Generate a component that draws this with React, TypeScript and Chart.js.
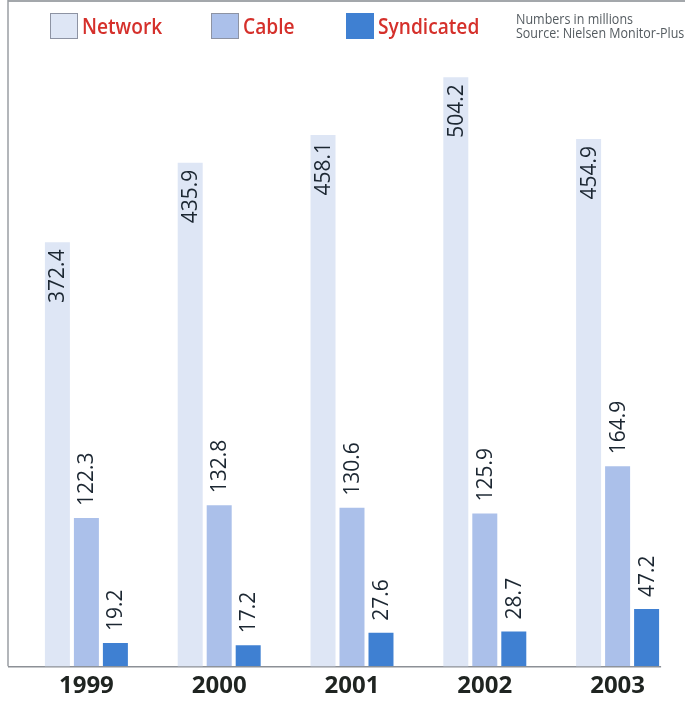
import React, { useEffect, useRef } from "react";
import { Chart, registerables } from "chart.js";

Chart.register(...registerables);

// ---- data ----
const categories = ["1999", "2000", "2001", "2002", "2003"];
const seriesNames = ["Network", "Cable", "Syndicated"];
const networkValues = [372.4, 435.9, 458.1, 504.2, 454.9];
const cableValues = [122.3, 132.8, 130.6, 125.9, 164.9];
const syndicatedValues = [19.2, 17.2, 27.6, 28.7, 47.2];
const noteLines = ["Numbers in millions", "Source: Nielsen Monitor-Plus"];

// ---- styles ----
const NETWORK_COLOR = "#dee6f5";
const CABLE_COLOR = "#abc0ea";
const SYND_COLOR = "#3f80d2";
const LABEL_COLOR = "#1c2732";
const LEGEND_TEXT = "#d5302b";
const FONT = "'Open Sans', 'Noto Sans', sans-serif";

const framePlugin = {
  id: "frame",
  beforeDatasetsDraw(chart: any) {
    const { ctx, chartArea } = chart;
    const metas = chart.getSortedVisibleDatasetMetas();
    const lastMeta = metas[metas.length - 1];
    const lastBar = lastMeta.data[lastMeta.data.length - 1];
    const rightEnd = lastBar.x + lastBar.width / 2 + 2;
    ctx.save();
    // top scan edge
    ctx.fillStyle = "#a3a7ab";
    ctx.fillRect(8, 0, chart.width - 8, 2);
    // left frame line
    ctx.strokeStyle = "#9a9ea3";
    ctx.lineWidth = 1.5;
    ctx.beginPath();
    ctx.moveTo(8, 0);
    ctx.lineTo(8, chartArea.bottom);
    ctx.stroke();
    // baseline
    ctx.strokeStyle = "#8c9096";
    ctx.lineWidth = 1.5;
    ctx.beginPath();
    ctx.moveTo(8, chartArea.bottom + 0.5);
    ctx.lineTo(rightEnd, chartArea.bottom + 0.5);
    ctx.stroke();
    ctx.restore();
  },
};

const valueLabelPlugin = {
  id: "valueLabels",
  afterDatasetsDraw(chart: any) {
    const { ctx } = chart;
    ctx.save();
    ctx.font = `500 21px ${FONT}`;
    ctx.fillStyle = LABEL_COLOR;
    ctx.textBaseline = "middle";
    chart.data.datasets.forEach((ds: any, di: number) => {
      const meta = chart.getDatasetMeta(di);
      const inside = di === 0;
      meta.data.forEach((bar: any, i: number) => {
        const v = ds.data[i] as number;
        ctx.save();
        ctx.translate(bar.x + 1, inside ? bar.y + 7 : bar.y - 12);
        ctx.rotate(-Math.PI / 2);
        ctx.textAlign = inside ? "right" : "left";
        ctx.fillText(v.toFixed(1), 0, 0);
        ctx.restore();
      });
    });
    ctx.restore();
  },
};

const legendPlugin = {
  id: "customLegend",
  afterDraw(chart: any) {
    const { ctx } = chart;
    const boxX = [50, 211, 346];
    const boxY = 13;
    const boxW = 28;
    const boxH = 26;
    ctx.save();
    chart.data.datasets.forEach((ds: any, i: number) => {
      ctx.fillStyle = ds.backgroundColor;
      ctx.fillRect(boxX[i], boxY, boxW, boxH);
      if (i < 2) {
        ctx.strokeStyle = "#8d93a3";
        ctx.lineWidth = 1;
        ctx.strokeRect(boxX[i] + 0.5, boxY + 0.5, boxW - 1, boxH - 1);
      }
      ctx.font = `600 22px ${FONT}`;
      ctx.fillStyle = LEGEND_TEXT;
      ctx.textAlign = "left";
      ctx.textBaseline = "alphabetic";
      const w = ctx.measureText(ds.label).width;
      ctx.fillText(ds.label, boxX[i] + boxW + 4, 34, w * 0.87);
    });
    ctx.font = `400 14px ${FONT}`;
    ctx.fillStyle = "#545b60";
    const w1 = ctx.measureText(noteLines[0]).width;
    const squeeze = 117 / w1;
    noteLines.forEach((line, k) => {
      const w = ctx.measureText(line).width;
      ctx.fillText(line, 516, 24 + k * 14, w * squeeze);
    });
    ctx.restore();
  },
};

export default function App() {
  const ref = useRef<HTMLCanvasElement | null>(null);

  useEffect(() => {
    document.body.style.margin = "0";
    document.body.style.overflow = "hidden";
    if (!ref.current) return;
    const chart = new Chart(ref.current, {
      type: "bar",
      data: {
        labels: categories,
        datasets: [
          { label: seriesNames[0], data: networkValues, backgroundColor: NETWORK_COLOR, yAxisID: "yNet" },
          { label: seriesNames[1], data: cableValues, backgroundColor: CABLE_COLOR, yAxisID: "y" },
          { label: seriesNames[2], data: syndicatedValues, backgroundColor: SYND_COLOR, yAxisID: "y" },
        ],
      },
      options: {
        responsive: false,
        animation: false,
        devicePixelRatio: 1,
        layout: { padding: { left: 20, right: 1, top: 60, bottom: -6 } },
        datasets: { bar: { categoryPercentage: 0.655, barPercentage: 0.862 } } as any,
        plugins: {
          legend: { display: false },
          tooltip: { enabled: false },
        },
        scales: {
          x: {
            type: "category",
            grid: { display: false, drawTicks: false },
            border: { display: false },
            ticks: {
              color: "#1f2421",
              padding: 6,
              font: { family: FONT, size: 24, weight: "bold" },
            },
          },
          y: { display: false, min: 0, max: 500 },
          yNet: { display: false, min: 34, max: 518 },
        },
      },
      plugins: [framePlugin, valueLabelPlugin, legendPlugin],
    });
    return () => chart.destroy();
  }, []);

  return (
    <div style={{ width: 685, height: 701, background: "#ffffff" }}>
      <canvas ref={ref} width={685} height={701} style={{ display: "block" }} />
    </div>
  );
}
